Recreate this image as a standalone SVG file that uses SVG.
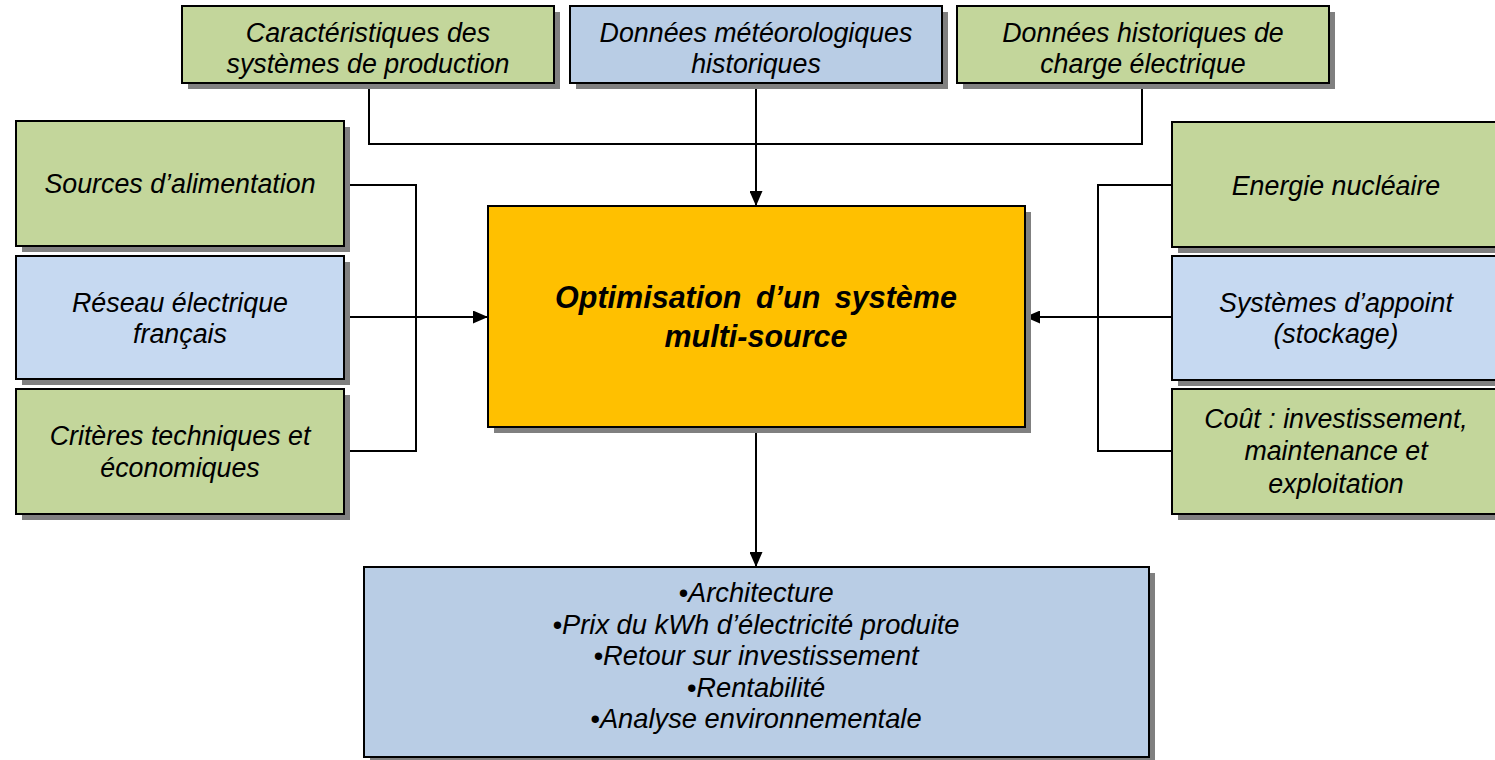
<svg xmlns="http://www.w3.org/2000/svg" width="1495" height="760" viewBox="0 0 1495 760">
<style>
.box{stroke:#000;stroke-width:2}
.sh{fill:#808080}
.g{fill:#C3D69B}
.b{fill:#B9CDE5}
.lb{fill:#C6D9F1}
.o{fill:#FFC000}
text{font-family:"Liberation Sans",Arial,sans-serif;font-style:italic;font-size:26.8px;fill:#000;text-anchor:middle}
.big{font-weight:bold;font-size:30.5px;word-spacing:6px}
.lst{font-size:27.3px}
.c{fill:none;stroke:#000;stroke-width:2}
</style>
<defs>
<marker id="ah" viewBox="0 0 15 13" refX="15" refY="6.5" markerWidth="15" markerHeight="13" markerUnits="userSpaceOnUse" orient="auto">
<path d="M0,0 L15,6.5 L0,13 Z" fill="#000"/>
</marker>
</defs>
<rect width="1495" height="760" fill="#fff"/>

<g id="connectors">
<polyline class="c" points="369,83 369,144 1142,144 1142,83"/>
<line class="c" x1="756" y1="83" x2="756" y2="206" marker-end="url(#ah)"/>
<polyline class="c" points="344,185 416,185 416,451 344,451"/>
<line class="c" x1="344" y1="317" x2="488" y2="317" marker-end="url(#ah)"/>
<polyline class="c" points="1172,185 1098,185 1098,451 1172,451"/>
<line class="c" x1="1172" y1="317" x2="1025" y2="317" marker-end="url(#ah)"/>
<line class="c" x1="756" y1="427" x2="756" y2="567" marker-end="url(#ah)"/>
</g>

<g id="top1">
<rect class="sh" x="188" y="12" width="372" height="77"/>
<rect class="box g" x="182" y="6" width="372" height="77"/>
<text x="368" y="42">Caractéristiques des</text>
<text x="368" y="73">systèmes de production</text>
</g>
<g id="top2">
<rect class="sh" x="576" y="12" width="372" height="77"/>
<rect class="box b" x="570" y="6" width="372" height="77"/>
<text x="756" y="42">Données météorologiques</text>
<text x="756" y="73">historiques</text>
</g>
<g id="top3">
<rect class="sh" x="963" y="12" width="372" height="77"/>
<rect class="box g" x="957" y="6" width="372" height="77"/>
<text x="1143" y="42">Données historiques de</text>
<text x="1143" y="73">charge électrique</text>
</g>

<g id="left1">
<rect class="sh" x="22" y="127" width="328" height="125"/>
<rect class="box g" x="16" y="121" width="328" height="125"/>
<text x="180" y="193">Sources d’alimentation</text>
</g>
<g id="left2">
<rect class="sh" x="22" y="262" width="328" height="123"/>
<rect class="box lb" x="16" y="256" width="328" height="123"/>
<text x="180" y="312">Réseau électrique</text>
<text x="180" y="343">français</text>
</g>
<g id="left3">
<rect class="sh" x="22" y="395" width="328" height="125"/>
<rect class="box g" x="16" y="389" width="328" height="125"/>
<text x="180" y="445">Critères techniques et</text>
<text x="180" y="477">économiques</text>
</g>

<g id="center">
<rect class="sh" x="494" y="212" width="537" height="221"/>
<rect class="box o" x="488" y="206" width="537" height="221"/>
<text class="big" x="756" y="308">Optimisation d’un système</text>
<text class="big" x="756" y="347">multi-source</text>
</g>

<g id="right1">
<rect class="sh" x="1178" y="128" width="328" height="125"/>
<rect class="box g" x="1172" y="122" width="328" height="125"/>
<text x="1336" y="195">Energie nucléaire</text>
</g>
<g id="right2">
<rect class="sh" x="1178" y="262" width="328" height="124"/>
<rect class="box lb" x="1172" y="256" width="328" height="124"/>
<text x="1336" y="312">Systèmes d’appoint</text>
<text x="1336" y="343">(stockage)</text>
</g>
<g id="right3">
<rect class="sh" x="1178" y="395" width="328" height="125"/>
<rect class="box g" x="1172" y="389" width="328" height="125"/>
<text x="1336" y="428">Coût : investissement,</text>
<text x="1336" y="460">maintenance et</text>
<text x="1336" y="493">exploitation</text>
</g>

<g id="bottom">
<rect class="sh" x="370" y="573" width="785" height="190"/>
<rect class="box b" x="364" y="567" width="785" height="190"/>
<text class="lst" x="756" y="602">•Architecture</text>
<text class="lst" x="756" y="633.5">•Prix du kWh d’électricité produite</text>
<text class="lst" x="756" y="665">•Retour sur investissement</text>
<text class="lst" x="756" y="696.5">•Rentabilité</text>
<text class="lst" x="756" y="728">•Analyse environnementale</text>
</g>
</svg>
